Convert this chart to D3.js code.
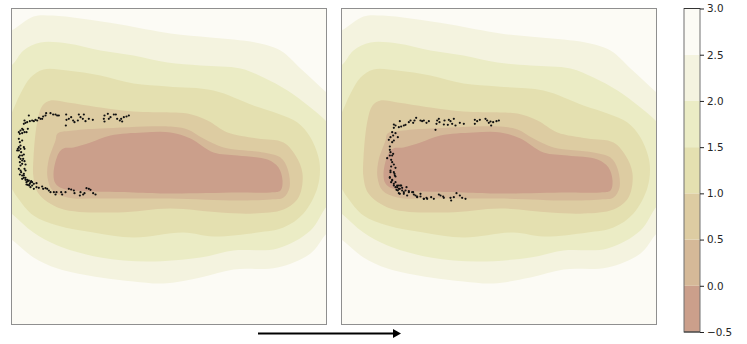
<!DOCTYPE html>
<html>
<head>
<meta charset="utf-8">
<script src="https://cdn.jsdelivr.net/npm/d3@7"></script>
<style>
  html, body { margin: 0; padding: 0; background: #fff; }
  text { font-family: "DejaVu Sans", sans-serif; }
</style>
</head>
<body>
<div id="plot"></div>
<script>
// colour band edges, bottom to top
const levels = [-0.5, 0, 0.5, 1, 1.5, 2, 2.5, 3];
const bandColors = ["#cb9f8b", "#d5b998", "#ddcca2", "#e4e0b0", "#ebecc5", "#f4f3df", "#fcfbf5"];
const tickLabels = [-0.5, 0, 0.5, 1, 1.5, 2, 2.5, 3];

// contour outlines, outermost first (lower edge of each band)
const contour25 = [[-10,38],[11,30],[33,16],[52,15],[80,18],[120,24],[170,33],[210,37],[255,42],[280,50],[300,68],[326,92],[345,110],[345,215],[326,233],[310,253],[277,267],[233,269],[200,277],[163,283],[133,281],[100,277],[57,268],[33,257],[11,239],[-10,225]];
const contour20 = [[-10,75],[11,65],[23,50],[40,42],[67,43],[100,50],[133,55],[167,62],[200,65],[240,68],[263,77],[287,90],[310,107],[327,122],[345,145],[345,190],[327,205],[310,230],[277,248],[233,250],[200,257],[147,261],[100,257],[57,245],[33,232],[11,213],[-10,195]];
const contour15 = [[3,130],[11,113],[20,93],[30,77],[43,69],[67,70],[100,75],[133,83],[167,86],[213,90],[253,105],[277,113],[297,122],[310,137],[319,162],[317,187],[303,213],[283,227],[257,232],[213,236],[183,232],[133,237],[93,232],[57,225],[33,215],[17,197],[9,183],[0,150]];
const contour10 = [[50,100],[42,105],[37,120],[33,157],[33,177],[38,193],[60,208],[117,212],[170,208],[220,212],[253,213],[283,209],[298,197],[302,173],[295,155],[283,142],[257,138],[227,132],[207,120],[187,113],[170,112],[133,111],[100,107],[67,102]];
const contour05 = [[57,133],[55,140],[48,160],[47,177],[52,190],[67,197],[100,198],[170,198],[237,200],[270,199],[283,197],[289,187],[287,168],[280,157],[263,152],[223,147],[203,138],[187,129],[170,126],[100,128],[73,130]];
const contour00 = [[63,148],[58,153],[53,173],[55,183],[62,188],[133,192],[170,193],[237,192],[270,192],[280,190],[282,180],[278,167],[267,159],[237,155],[213,152],[190,138],[170,132],[143,132],[110,135],[90,142],[73,147]];

// black dots, read at 3x
const pointsLeft = [[385,75],[378,78],[370,80],[362,85],[365,93],[358,90],[350,85],[346,72],[340,72],[330,80],[322,70],[325,85],[312,75],[310,85],[312,93],[277,88],[265,85],[255,92],[250,72],[247,85],[240,80],[235,72],[232,90],[222,95],[218,90],[212,80],[205,85],[197,72],[198,88],[196,105],[175,75],[170,75],[165,72],[158,72],[150,68],[137,68],[135,75],[128,78],[125,85],[120,85],[115,82],[110,90],[105,88],[100,92],[95,90],[88,92],[85,75],[80,95],[75,97],[72,90],[70,100],[65,115],[82,115],[72,125],[68,118],[60,120],[55,125],[58,130],[65,128],[78,125],[55,145],[58,155],[60,165],[55,170],[65,150],[70,170],[50,180],[55,180],[60,175],[72,175],[62,185],[65,195],[70,192],[55,200],[60,205],[68,205],[72,212],[58,215],[65,220],[75,222],[60,225],[55,235],[72,235],[75,240],[62,245],[65,255],[58,252],[70,250],[70,262],[65,265],[75,262],[80,268],[85,270],[92,272],[78,275],[82,283],[88,280],[90,290],[100,280],[95,275],[108,278],[100,295],[108,290],[115,292],[125,288],[128,295],[135,293],[140,295],[145,300],[150,305],[160,305],[165,312],[168,305],[182,305],[185,312],[195,305],[205,295],[212,297],[220,300],[222,308],[240,305],[238,315],[248,312],[252,308],[258,293],[265,295],[270,298],[278,308],[285,312],[75,268],[82,272],[90,275],[86,285],[78,282],[95,285],[70,255],[60,240],[58,195],[52,175],[65,210]];
const pointsRight = [[475,90],[468,92],[458,95],[450,93],[452,105],[445,97],[440,90],[435,85],[418,88],[410,92],[403,88],[403,100],[370,100],[358,97],[345,105],[340,85],[335,100],[330,92],[325,88],[322,103],[312,90],[310,102],[297,95],[295,85],[290,90],[288,100],[285,118],[265,92],[258,97],[250,90],[245,92],[240,90],[227,82],[222,90],[218,97],[210,90],[205,95],[195,103],[190,105],[178,92],[182,108],[175,110],[165,105],[160,102],[160,112],[155,125],[165,128],[172,140],[158,135],[150,140],[145,148],[160,150],[155,155],[148,168],[148,178],[150,185],[158,190],[148,195],[155,195],[140,203],[152,208],[155,215],[160,222],[152,228],[165,232],[150,240],[160,245],[163,255],[148,262],[155,268],[165,258],[152,275],[160,280],[170,285],[165,290],[175,295],[180,285],[185,292],[172,300],[178,310],[190,305],[195,300],[205,305],[200,315],[218,305],[225,315],[230,320],[240,318],[250,325],[258,322],[272,320],[280,325],[295,312],[300,315],[310,322],[308,318],[330,322],[332,330],[340,320],[348,308],[358,315],[365,322],[375,325],[150,245],[162,250],[148,260],[155,270],[165,275],[160,285],[170,290],[175,285],[182,285],[168,298],[178,295],[185,300],[175,308],[190,310],[198,290],[205,302],[215,305],[220,312],[230,318],[240,310],[250,325],[260,325]];

const contours = [contour25, contour20, contour15, contour10, contour05, contour00];

const svg = d3.select("#plot").append("svg")
    .attr("width", 747)
    .attr("height", 344)
    .style("display", "block");

const panelTop = 8.5, panelBottom = 324.5, panelWidth = 315;
const contourY = d3.scaleLinear().domain([8, 324]).range([panelTop, panelBottom]);
const dotY = d3.scaleLinear().domain([-246, 702]).range([panelTop, panelBottom]);

function drawPanel(id, left, points, dotDomain) {
  const contourX = d3.scaleLinear().domain([11, 326]).range([left, left + panelWidth]);
  const dotX = d3.scaleLinear().domain(dotDomain).range([left, left + panelWidth]);

  svg.append("clipPath").attr("id", id)
    .append("rect")
      .attr("x", left)
      .attr("y", panelTop)
      .attr("width", panelWidth)
      .attr("height", panelBottom - panelTop);

  const g = svg.append("g");
  const inner = g.append("g").attr("clip-path", `url(#${id})`);

  inner.append("rect")
      .attr("x", left)
      .attr("y", panelTop)
      .attr("width", panelWidth)
      .attr("height", panelBottom - panelTop)
      .attr("fill", bandColors[6]);

  const line = d3.line()
      .x(d => contourX(d[0]))
      .y(d => contourY(d[1]))
      .curve(d3.curveCatmullRomClosed.alpha(0.5));

  inner.selectAll(".band")
    .data(contours)
    .enter().append("path")
      .attr("class", "band")
      .attr("d", line)
      .attr("fill", (d, i) => bandColors[5 - i]);

  g.selectAll(".dot")
    .data(points)
    .enter().append("circle")
      .attr("class", "dot")
      .attr("cx", d => dotX(d[0]))
      .attr("cy", d => dotY(d[1]))
      .attr("r", 1.1)
      .attr("fill", "#111");

  // frame
  g.append("rect")
      .attr("x", left)
      .attr("y", panelTop)
      .attr("width", panelWidth)
      .attr("height", panelBottom - panelTop)
      .attr("fill", "none")
      .attr("stroke", "#8f8f8f");
}

drawPanel("clipLeft", 11.5, pointsLeft, [33, 978]);
drawPanel("clipRight", 341.5, pointsRight, [3, 948]);

// colour bar
const barX = 684, barW = 16;
const barY = d3.scaleLinear().domain([-0.5, 3]).range([332, 8.5]);
const bands = d3.pairs(levels);

svg.selectAll(".barBand")
  .data(bands)
  .enter().append("rect")
    .attr("class", "barBand")
    .attr("x", barX)
    .attr("y", d => barY(d[1]))
    .attr("width", barW)
    .attr("height", d => barY(d[0]) - barY(d[1]))
    .attr("fill", (d, i) => bandColors[i]);

// dark top and bottom, greyer sides like the reference
svg.append("rect")
    .attr("x", barX)
    .attr("y", barY(3))
    .attr("width", barW)
    .attr("height", barY(-0.5) - barY(3))
    .attr("fill", "none")
    .attr("stroke", "#707070");

svg.selectAll(".barCap")
  .data([3, -0.5])
  .enter().append("line")
    .attr("class", "barCap")
    .attr("x1", barX)
    .attr("x2", barX + barW)
    .attr("y1", d => barY(d))
    .attr("y2", d => barY(d))
    .attr("stroke", "#333");

const barAxis = svg.append("g")
    .attr("transform", `translate(${barX + barW},0)`)
    .call(d3.axisRight(barY).tickValues(tickLabels).tickFormat(d3.format(".1f")).tickSize(4).tickPadding(3));

barAxis.select(".domain").remove();
barAxis.selectAll("text").attr("font-size", "10.4px").attr("fill", "#262626").attr("font-family", '"DejaVu Sans"');
barAxis.selectAll("line").attr("stroke", "#222");

// arrow under the panels
const arrowY = 333.5;
svg.append("line")
    .attr("x1", 258)
    .attr("x2", 394)
    .attr("y1", arrowY)
    .attr("y2", arrowY)
    .attr("stroke", "#000")
    .attr("stroke-width", 2);

svg.append("path")
    .attr("d", `M393,${arrowY - 4.5}L401,${arrowY}L393,${arrowY + 4.5}Z`)
    .attr("fill", "#000");
</script>
</body>
</html>
